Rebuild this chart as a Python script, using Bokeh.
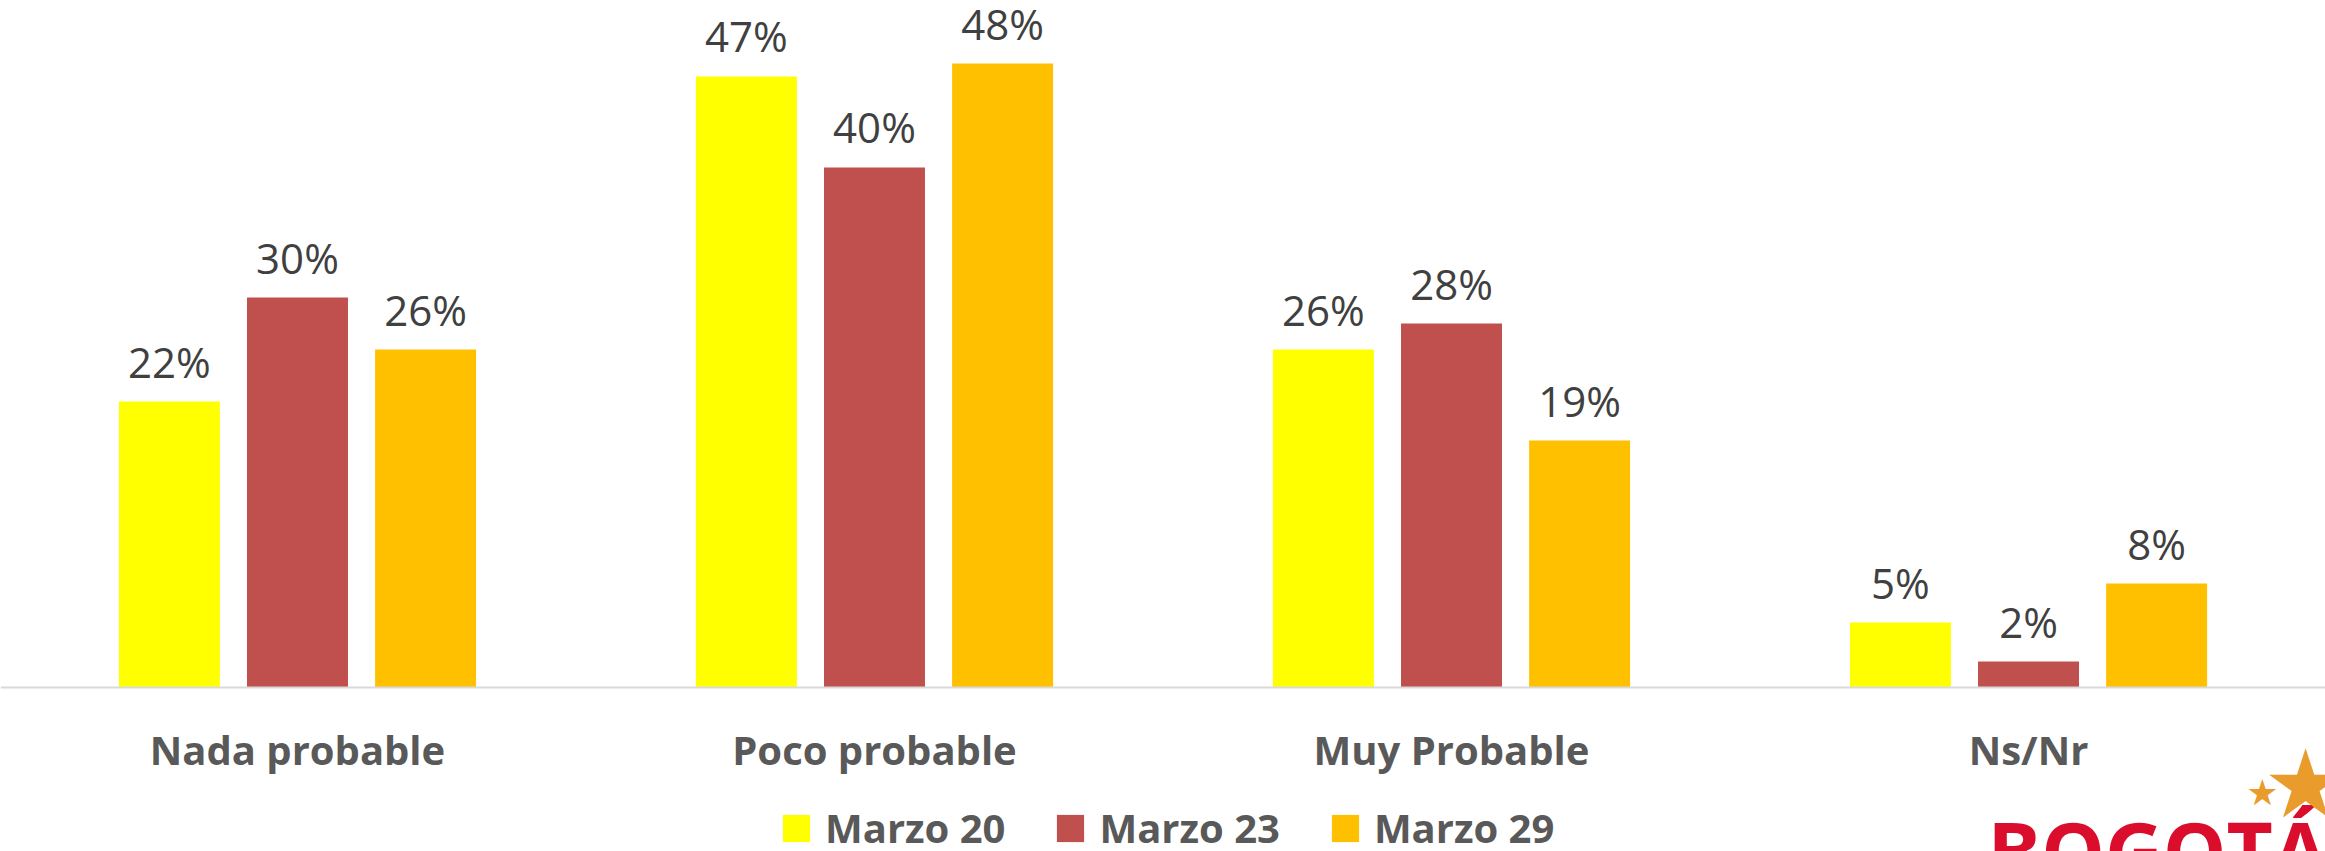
from bokeh.plotting import figure
from bokeh.models import ColumnDataSource, FactorRange, Range1d, LabelSet, Legend, LegendItem, Label
from bokeh.core.properties import value
from bokeh.transform import dodge
from bokeh.embed import file_html
from bokeh.resources import INLINE

categories = ["Nada probable", "Poco probable", "Muy Probable", "Ns/Nr"]
series_names = ["Marzo 20", "Marzo 23", "Marzo 29"]
marzo20 = [22, 47, 26, 5]
marzo23 = [30, 40, 28, 2]
marzo29 = [26, 48, 19, 8]
colors = ["#FFFF00", "#C0504D", "#FFC000"]

W, H = 2325, 851
xr = FactorRange(*categories, range_padding=0.0147, range_padding_units="absolute")
p = figure(x_range=xr, y_range=Range1d(-12.615, 52.846),
           width=W, height=H, output_backend="svg", toolbar_location=None,
           y_axis_location=None, min_border_left=0, min_border_right=0,
           min_border_top=0, min_border_bottom=0)
p.outline_line_color = None
p.xgrid.visible = False
p.ygrid.visible = False
p.background_fill_color = "white"
p.border_fill_color = "white"

offsets = [-0.222, 0.0, 0.222]
items = []
for name, vals, col, off in zip(series_names, [marzo20, marzo23, marzo29], colors, offsets):
    src = ColumnDataSource(dict(cat=categories, v=vals, lab=[f"{v}%" for v in vals]))
    r = p.vbar(x=dodge("cat", off, range=p.x_range), top="v", width=0.175, source=src,
               fill_color=col, line_color=None)
    items.append(LegendItem(label=name, renderers=[r]))
    p.add_layout(LabelSet(x=dodge("cat", off, range=p.x_range), y="v", text="lab", source=src,
                          y_offset=24, text_align="center", text_baseline="alphabetic",
                          text_font=value("Open Sans"), text_font_size="42px",
                          text_color="#404040"))

ax = p.xaxis[0]
ax.fixed_location = 0
ax.axis_line_color = "#D9D9D9"
ax.axis_line_width = 2
ax.major_tick_line_color = None
ax.minor_tick_line_color = None
ax.major_label_text_font = "Open Sans"
ax.major_label_text_font_style = "bold"
ax.major_label_text_font_size = "40px"
ax.major_label_text_color = "#595959"
ax.major_label_standoff = 28

legend = Legend(items=items, orientation="horizontal", location=(779, -4),
                glyph_width=34, glyph_height=34, label_standoff=12, spacing=48,
                padding=0, margin=0, border_line_color=None, background_fill_alpha=0,
                label_text_font="Open Sans", label_text_font_style="bold",
                label_text_font_size="40px", label_text_color="#595959",
                label_height=30)
p.add_layout(legend)

# logo decoration
p.add_layout(Label(x=1987, y=2, x_units="screen", y_units="screen", text="BOGOTÁ",
                   text_font="Open Sans", text_font_style="bold", text_font_size="80px",
                   text_color="#DA0E2C", text_baseline="middle"))
p.add_layout(Label(x=2305, y=68, x_units="screen", y_units="screen", text="★",
                   text_font="DejaVu Sans", text_font_size="95px", text_align="center",
                   text_baseline="middle", text_color="#E99B2C"))
p.add_layout(Label(x=2262, y=59, x_units="screen", y_units="screen", text="★",
                   text_font="DejaVu Sans", text_font_size="36px", text_align="center",
                   text_baseline="middle", text_color="#E99B2C"))

open("out.html", "w").write(file_html(p, INLINE))
